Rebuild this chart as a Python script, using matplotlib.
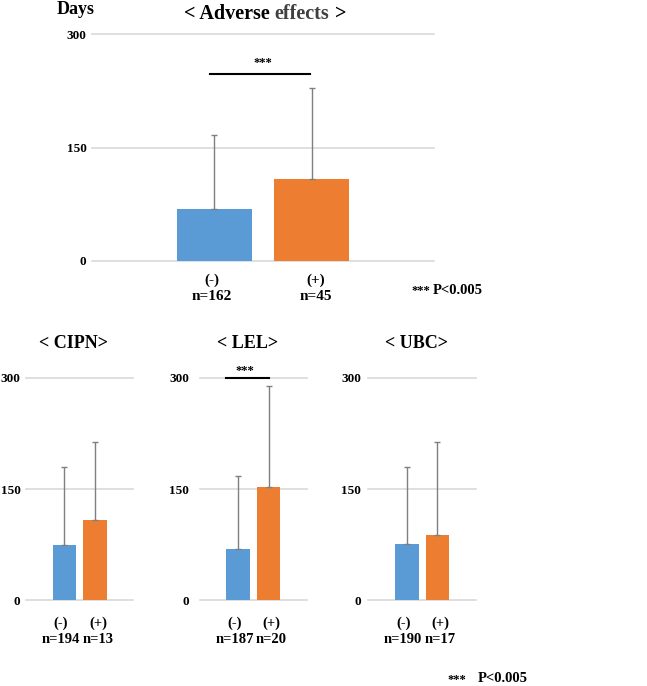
import matplotlib.pyplot as plt

# Mean days (bars) and upper SD (error bars)
panels = ['< Adverse effects >', '< CIPN>', '< LEL>', '< UBC>']
mean_neg = [68, 75, 69, 76]
mean_pos = [108, 109, 153, 88]
sd_neg = [99, 105, 99, 104]
sd_pos = [121, 104, 136, 125]
n_neg = [162, 194, 187, 190]
n_pos = [45, 13, 20, 17]
yticks = [0, 150, 300]

BLUE = '#5B9BD5'
ORANGE = '#ED7D31'
GRID = '#D9D9D9'
ERR = '#7F7F7F'
FONT = 'Liberation Serif'

plt.rcParams['font.family'] = FONT
plt.rcParams['font.weight'] = 'bold'

W, H = 647, 686
fig = plt.figure(figsize=(W / 100, H / 100), dpi=100)


def px_axes(x0, x1, ytop, ybot):
    return fig.add_axes([x0 / W, 1 - ybot / H, (x1 - x0) / W, (ybot - ytop) / H])


def draw(ax, i, tick_fs, pad, ypad, label_pos):
    x = [0, 1]
    ax.bar(x, [mean_neg[i], mean_pos[i]], width=0.78,
           color=[BLUE, ORANGE], zorder=2)
    ax.errorbar(x, [mean_neg[i], mean_pos[i]],
                yerr=[[0, 0], [sd_neg[i], sd_pos[i]]],
                fmt='none', ecolor=ERR, elinewidth=1, capsize=2.5,
                capthick=1, zorder=3)
    ax.set_xlim(-1.26, 2.26)
    ax.set_ylim(0, 300)
    ax.set_yticks(yticks)
    for v in yticks:
        ax.axhline(v, color=GRID, linewidth=1.2, zorder=0, clip_on=False)
    for s in ax.spines.values():
        s.set_visible(False)
    # category labels sit slightly apart from the bar centres, as in the original
    ax.set_xticks(label_pos)
    ax.set_xticklabels([f'(-)\nn={n_neg[i]}', f'(+)\nn={n_pos[i]}'],
                       fontsize=tick_fs, fontweight='bold', linespacing=1.3)
    ax.tick_params(axis='x', length=0, pad=pad)
    ax.tick_params(axis='y', length=0, pad=ypad, labelsize=9.5)
    for lb in ax.get_yticklabels():
        lb.set_fontweight('bold')


# top panel
ax0 = px_axes(92, 434, 34.5, 260.7)
draw(ax0, 0, 11, 9, 4, [-0.03, 1.04])
ax0.plot([-0.05, 0.98], [248, 248], color='black', lw=1.5, clip_on=False)
ax0.text(0.5, 254, '***', ha='center', va='bottom', fontsize=9)

# title with grey "effects"
base_y = 1 - 19 / H
t1 = fig.text(184 / W, base_y, '< Adverse ', fontsize=14.5,
              fontweight='bold', ha='left', va='baseline')
t2 = fig.text(0, 0, 'effects', fontsize=14.5, fontweight='bold', color='#404040',
              ha='left', va='baseline')
t3 = fig.text(0, 0, ' >', fontsize=14.5, fontweight='bold', ha='left', va='baseline')
fig.canvas.draw()
r = fig.canvas.get_renderer()
b1 = t1.get_window_extent(r)
t2.set_position((b1.x1 / W, base_y))
b2 = t2.get_window_extent(r)
t3.set_position((b2.x1 / W, base_y))

fig.text(57 / W, 1 - 10 / H, 'Days', fontsize=13, fontweight='bold',
         ha='left', va='center')
fig.text(411 / W, 1 - 291 / H, '***', fontsize=9, fontweight='bold',
         ha='left', va='center')
fig.text(433 / W, 1 - 290 / H, 'P<0.005', fontsize=10.5, fontweight='bold',
         ha='left', va='center')

# bottom panels
lefts = [(26, 133.3), (200, 306.7), (368.3, 476)]
ypads = [4, 8, 5]
for k, (x0, x1) in enumerate(lefts):
    ax = px_axes(x0, x1, 378, 600.3)
    draw(ax, k + 1, 10.5, 12, ypads[k], [-0.12, 1.1])
    cx = (x0 + x1) / 2
    fig.text((cx - 6) / W, 1 - 343 / H, panels[k + 1], fontsize=13,
             fontweight='bold', ha='center', va='center')
    if panels[k + 1] == '< LEL>':
        ax.plot([-0.39, 1.0], [300, 300], color='black', lw=1.5,
                clip_on=False, zorder=4)
        ax.text(0.22, 302, '***', ha='center', va='bottom', fontsize=9,
                clip_on=False)

fig.text(447 / W, 1 - 680 / H, '***', fontsize=9, fontweight='bold',
         ha='left', va='center')
fig.text(478 / W, 1 - 679 / H, 'P<0.005', fontsize=10.5, fontweight='bold',
         ha='left', va='center')

fig.savefig('out.png', dpi=100)
